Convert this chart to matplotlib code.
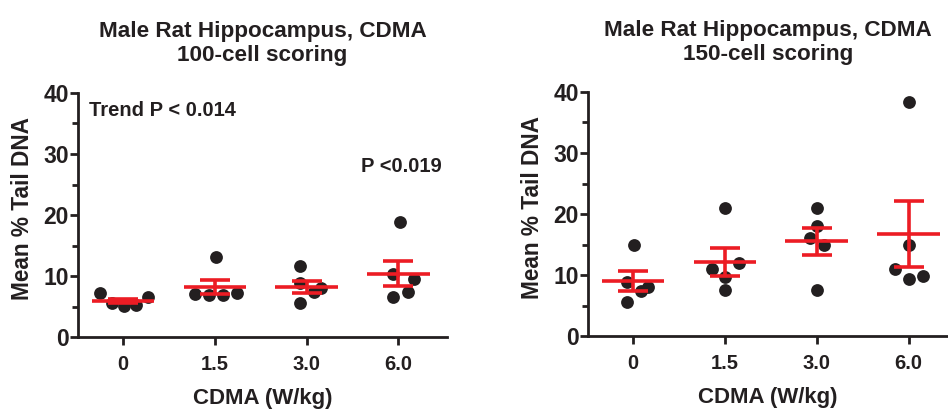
"""
Comet assay, male rat hippocampus (CDMA): mean % tail DNA per animal,
group mean +/- SEM, 100-cell vs 150-cell scoring.
Output: out.png
"""
import matplotlib
matplotlib.use("Agg")
import matplotlib.pyplot as plt
import numpy as np

plt.rcParams["font.family"] = ["Liberation Sans", "DejaVu Sans"]
plt.rcParams["font.weight"] = "bold"
plt.rcParams["axes.titleweight"] = "bold"
plt.rcParams["axes.labelweight"] = "bold"

groups = ["0", "1.5", "3.0", "6.0"]

# 100-cell scoring (per-animal values)
vals_100 = [
    [7.2, 5.5, 5.1, 5.2, 6.6],
    [7.0, 6.9, 6.9, 7.2, 13.1],
    [11.6, 8.8, 7.4, 8.0, 5.5],
    [10.3, 9.5, 7.3, 6.5, 18.9],
]
mean_100 = [5.9, 8.2, 8.2, 10.4]
sem_100 = [0.4, 1.2, 0.95, 2.1]

# 150-cell scoring
vals_150 = [
    [15.0, 8.9, 7.4, 8.05, 5.6],
    [21.0, 11.0, 9.7, 11.9, 7.5],
    [21.0, 18.0, 16.1, 15.0, 7.5],
    [38.3, 15.0, 11.0, 9.4, 9.8],
]
mean_150 = [9.0, 12.2, 15.5, 16.7]
sem_150 = [1.65, 2.3, 2.2, 5.45]

# horizontal scatter of the dots within a group (as in the original)
jit_100 = [
    [-0.25, -0.12, 0.01, 0.14, 0.27],
    [-0.22, -0.065, 0.087, 0.24, 0.01],
    [-0.07, -0.07, 0.08, 0.16, -0.07],
    [-0.055, 0.17, 0.10, -0.055, 0.02],
]
jit_150 = [
    [0.01, -0.065, 0.09, 0.16, -0.065],
    [0.0, -0.145, 0.0, 0.15, 0.0],
    [0.0, 0.0, -0.07, 0.08, 0.0],
    [0.0, 0.0, -0.15, 0.0, 0.16],
]

INK = "#231f20"
RED = "#ec1c24"


def panel(ax, vals, means, sems, jit, title, xlim):
    x = np.arange(len(groups))
    for i, (v, j) in enumerate(zip(vals, jit)):
        ax.scatter(i + np.array(j), v, s=85, color=INK, zorder=2, linewidths=0)
    ax.hlines(means, x - 0.34, x + 0.34, color=RED, linewidth=2.6, zorder=3)
    ax.errorbar(x, means, yerr=sems, fmt="none", ecolor=RED, elinewidth=2.6,
                capsize=10.8, capthick=2.6, zorder=3)
    ax.set_xlim(*xlim)
    ax.set_ylim(0, 40)
    ax.set_xticks(x)
    ax.set_xticklabels(groups, fontsize=14.5)
    ax.set_yticks([0, 10, 20, 30, 40])
    ax.set_yticks([5, 15, 25, 35], minor=True)
    ax.tick_params(axis="y", labelsize=16.5, length=6, width=2, color=INK,
                   labelcolor=INK, pad=0.5)
    ax.tick_params(axis="y", which="minor", length=4, width=2, color=INK)
    ax.tick_params(axis="x", length=6, width=2, color=INK, labelcolor=INK, pad=7)
    for s in ["top", "right"]:
        ax.spines[s].set_visible(False)
    for s in ["left", "bottom"]:
        ax.spines[s].set_linewidth(2)
        ax.spines[s].set_color(INK)
    ax.set_xlabel("CDMA (W/kg)", fontsize=16, color=INK, labelpad=10)
    ax.set_ylabel("Mean % Tail DNA", fontsize=16.3, color=INK, labelpad=7)
    ax.yaxis.label.set_y(0.525)
    ax.set_title(title, fontsize=16.2, color=INK, pad=23, linespacing=1.2)


fig = plt.figure(figsize=(9.48, 4.09), dpi=100)
ax1 = fig.add_axes([78 / 948, 72 / 409, 369 / 948, 244 / 409])
ax2 = fig.add_axes([588 / 948, 73 / 409, 360 / 948, 244 / 409])

panel(ax1, vals_100, mean_100, sem_100, jit_100,
      "Male Rat Hippocampus, CDMA\n100-cell scoring", (-0.49, 3.53))
panel(ax2, vals_150, mean_150, sem_150, jit_150,
      "Male Rat Hippocampus, CDMA\n150-cell scoring", (-0.49, 3.43))

ax1.text(-0.37, 37.2, "Trend P < 0.014", fontsize=14.5, color=INK, va="center",
         ha="left")
ax1.text(3.03, 28.0, "P <0.019", fontsize=14.5, color=INK, va="center",
         ha="center")

fig.savefig("out.png", dpi=100)
